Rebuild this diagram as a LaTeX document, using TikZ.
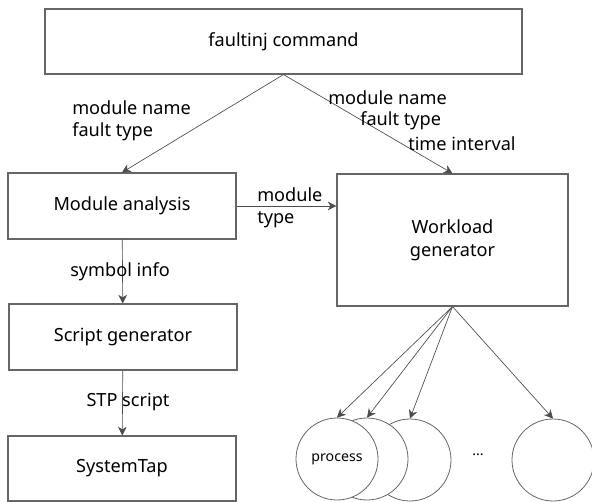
\documentclass[tikz,border=0pt]{standalone}
\usepackage{fontspec}
\setmainfont{Noto Sans}
\usetikzlibrary{positioning,arrows.meta}

\begin{document}
\begin{tikzpicture}[x=0.75pt,y=-0.75pt,
    font=\fontsize{13.6}{16.5}\selectfont,
    box/.style={draw=black!60, line width=0.8pt, inner sep=0pt, align=center},
    proc/.style={circle, draw=black!60, line width=0.6pt, fill=white, minimum size=61.5pt, inner sep=0pt},
    arr/.style={draw=black!70, line width=0.5pt, -{Stealth[length=6.5pt,width=6.5pt,inset=2pt]}},
    lbl/.style={inner sep=0pt, align=left}]
    \useasboundingbox (0,0) rectangle (592,502);

    % Boxes
    \node[box, minimum width=357.75pt, minimum height=48.75pt] (cmd) at (283.5,41.5) {faultinj command};
    \node[box, minimum width=171pt, minimum height=49.5pt] (ana) at (122,206) {Module analysis};
    \node[box, minimum width=173.25pt, minimum height=99pt, font=\fontsize{13.6}{17}\selectfont] (wl) at (452.5,240) {Workload\\generator};
    \node[box, minimum width=171pt, minimum height=49.5pt] (gen) at (123,337) {Script generator};
    \node[box, minimum width=171pt, minimum height=48.75pt] (stap) at (122,468.5) {SystemTap};

    % Processes (back to front)
    \node[proc] (p4) at (553,460) {};
    \node[proc] (p3) at (410,460) {};
    \node[proc] (p2) at (367,459) {};
    \node[proc, font=\fontsize{10.6}{12}\selectfont] (p1) at (337,459) {process};
    \node[lbl, font=\fontsize{10.6}{12}\selectfont] (dots) at (478,455) {...};

    % Arrows
    \draw[arr] (cmd.south) -- (ana.north);
    \draw[arr] (cmd.south) -- (wl.north);
    \draw[arr] (ana.east) -- (wl.west |- ana.east);
    \draw[arr] (ana) -- (gen);
    \draw[arr] (gen) -- (stap);
    \foreach \p in {p1,p2,p3,p4}
        \draw[arr] (wl.south) -- (\p.north);

    % Labels
    \node[lbl, anchor=west] (lcmd) at (72,121) {module name\\fault type};
    \node[lbl, anchor=west] (rname) at (328,98) {module name};
    \node[lbl, anchor=west] (rtype) at (360,121) {fault type};
    \node[lbl, anchor=west] (rtime) at (408,144) {time interval};
    \node[lbl, anchor=west] (mtype) at (257,208) {module\\type};
    \node[lbl] (sym) at (120,272) {symbol info};
    \node[lbl] (stp) at (128,402) {STP script};
\end{tikzpicture}
\end{document}
